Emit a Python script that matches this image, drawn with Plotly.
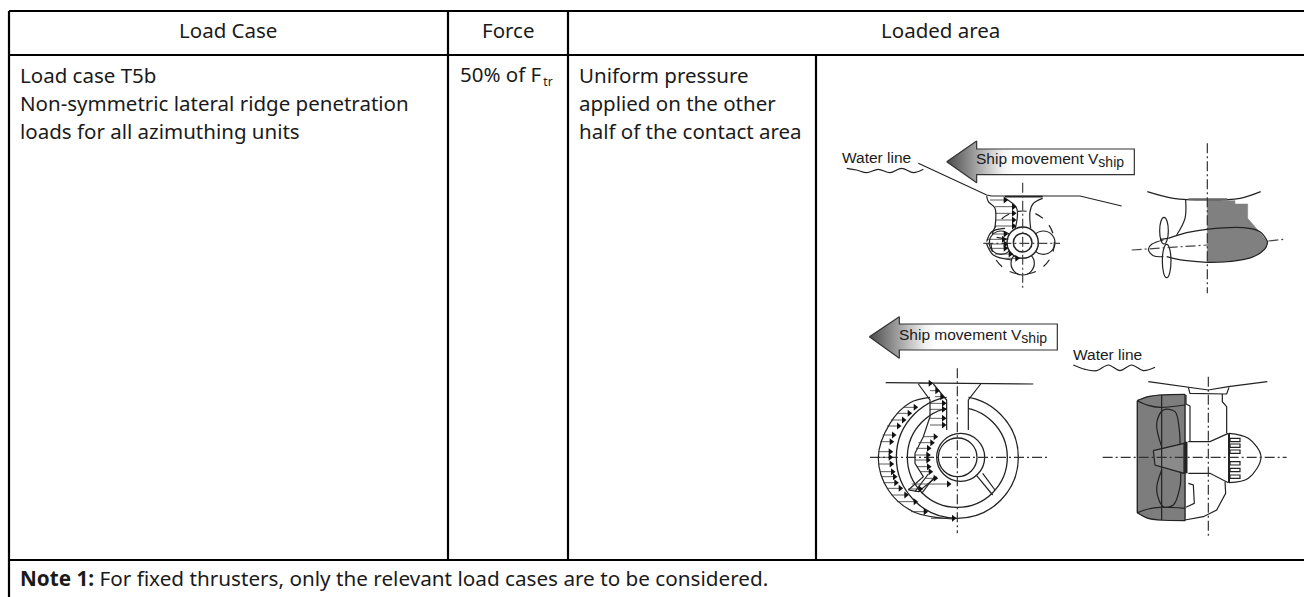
import plotly.graph_objects as go

# ---------- table content ----------
table_x = [9, 448, 568, 816, 1304]
table_y = [11, 55, 560, 597]
headers = ["Load Case", "Force", "Loaded area"]
load_case_lines = ["Load case T5b", "Non-symmetric lateral ridge penetration", "loads for all azimuthing units"]
force_text = "50% of F\u200a<sub><span style='font-size:12px'>tr</span></sub>"
area_lines = ["Uniform pressure", "applied on the other", "half of the contact area"]
note_text = "<b>Note 1:</b> For fixed thrusters, only the relevant load cases are to be considered."
ship_label = "Ship movement V<sub><span style='font-size:14px'>ship</span></sub>"
water_label = "Water line"
row_y = [75, 103, 131]

BODY_FONT = "Noto Sans"
DRAW_FONT = "Liberation Sans"

# ---------- drawing outlines (3x crop coordinates) ----------
O1 = (820, 140)
O2 = (820, 320)
O3 = (1060, 330)

d1_arrow = [(380,65),(470,3),(470,27),(943,27),(943,104),(470,104),(470,128),(380,65)]
d1_wave = [(80,85),(110,90),(140,98),(175,88),(210,98),(245,85),(280,98),(310,88)]
d1_hull = [(295,70),(500,165),(515,168),(780,168),(905,198)]
d1_plate = [(555,170),(668,170)]
d1_vcl = [(608,128),(608,450)]
d1_hcl = [(490,310),(720,310)]
d1_strut = [
    [(500,168),(505,185),(525,205),(525,262)],
    [(668,175),(640,190),(630,215),(632,265)],
    [(555,175),(590,205),(586,265)],
    [(500,305),(515,275),(555,265)],
    [(530,292),(565,298)],
    [(500,312),(520,345),(575,360)],
]
d1_arrows = [(510,560,180),(525,585,200),(525,585,220),(525,585,240),(525,585,258),
             (520,560,282),(500,555,298),(500,560,312),(505,560,325),(525,575,342),(545,595,355)]
d1_circles = [(608,308,95,"dash"),(608,370,35,"solid"),(670,308,35,"solid"),(543,308,35,"solid")]
d1_hub = [(608,308,47),(608,308,28)]

d2_hull = [(982,155),(1060,175),(1160,180),(1260,175),(1322,155)]
d2_plate = [(1105,178),(1222,178)]
d2_vcl = [(1162,10),(1162,460)]
d2_hcl1 = [(935,330),(1162,315)]
d2_hcl2 = [(1345,303),(1390,298)]
d2_gray_top = [(1162,182),(1245,182),(1245,192),(1283,192),(1283,235),(1315,272),(1333,290),(1343,305)]
d2_gray_low = [(1343,305),(1338,322),(1322,338),(1295,352),(1255,361),(1210,366),(1162,367),(1162,182)]
d2_lines = [
    [(1097,180),(1095,235),(1070,285)],
    [(1045,295),(1100,278),(1160,268),(1270,263),(1320,275),(1343,305)],
    [(1343,305),(1338,322),(1322,338),(1295,352),(1255,361),(1210,366),(1162,367),(1100,362),(1060,355),(1040,350)],
    [(1030,300),(995,313),(985,328),(1000,347),(1030,350)],
]
d2_box = [(1020,298),(1045,295)]
d2_blades = [(1032,272,13,40),(1040,363,13,50)]

d3_arrow = [(148,50),(238,-10),(238,12),(712,12),(712,90),(238,90),(238,115),(148,50)]
d3_base = [(197,188),(640,192)]
d3_vcl = [(412,145),(412,640)]
d3_hcl = [(150,412),(685,412)]
d3_strut = [
    [(340,192),(380,240),(380,330)],
    [(482,192),(445,240),(445,330)],
]
d3_spokes = [[(470,467),(518,525)],[(488,460),(525,510)],[(345,468),(305,520)],[(325,462),(285,515)]]
d3_rings = [(412,412,183),(412,412,150)]
d3_hub = [(422,412,72),(413,412,58)]
d3_pressure = [
    [(330,232),(270,248),(210,310),(175,412),(205,510),(280,575),(400,597)],
    [(295,192),(330,240),(330,290),(310,350),(285,400),(285,430),(310,470),(265,510),(295,515),(350,470)],
]
d3_arrows = [(252,290,262),(230,272,280),(213,255,300),(201,240,318),(188,225,345),(181,218,365),(176,215,395),
             (175,215,412),(176,218,432),(180,222,455),(184,228,470),(191,232,488),(200,245,505),(214,262,525),
             (231,290,545),(273,320,575),(333,405,595),(295,335,190),(330,355,212),(345,370,230),(330,375,250),
             (330,375,268),(330,375,295),(330,375,315),(310,350,350),(295,340,368),(288,330,385),(285,328,405),
             (285,328,420),(290,330,440),(300,335,455),(315,350,475),(275,390,492),(265,305,507)]

d4_wave = [(40,105),(75,118),(110,122),(145,105),(180,122),(215,105),(250,122),(285,112)]
d4_gray = [(232,212),(265,200),(300,195),(375,195),(375,570),(300,570),(265,565),(232,548),(232,212)]
d4_hub_fill = [(280,362),(372,340),(372,430),(285,405),(280,362)]
d4_lines = [
    [(265,155),(385,172),(445,180),(505,170),(622,155)],
    [(385,172),(390,190),(500,192),(507,172)],
    [(487,192),(487,215),(500,230),(500,310)],
    [(378,195),(378,222),(390,228),(390,335)],
    [(385,335),(450,335),(505,310)],
    [(385,430),(450,430),(505,458)],
    [(385,460),(400,465),(403,520),(378,532)],
    [(495,455),(497,490),(470,540),(430,560),(375,570)],
]
d4_bulb = [(507,310),(565,325),(603,380),(565,445),(507,458)]
d4_dark = [
    [(232,212),(265,226),(300,232),(375,225)],
    [(232,548),(265,537),(300,532),(375,535)],
    [(232,212),(265,200),(300,195),(375,193)],
    [(232,548),(265,565),(300,570),(375,572)],
    [(305,350),(290,280),(310,240),(345,245),(358,300),(360,345)],
    [(305,420),(290,480),(310,530),(340,525),(360,470),(362,425)],
]
d4_straight = [[(305,195),(305,570)], [(232,212),(232,548)], [(375,193),(375,572)]]
d4_thick = [(378,335),(378,430)]
d4_thick2 = [(507,310),(507,458)]
d4_fins_y = [325, 342, 360, 395, 415, 435]
d4_vcl = [(445,140),(445,620)]
d4_hcl = [(128,382),(680,382)]


def tx(p, o):
    return o[0] + p[0] / 3


def ty(p, o):
    return o[1] + p[1] / 3


fig = go.Figure()


def poly(pts, o=(0, 0), color="#222", width=1.2, dash="solid", shape="linear", fill=None, fillcolor=None,
         fillgradient=None):
    xs = [tx(p, o) for p in pts]
    ys = [ty(p, o) for p in pts]
    kw = {}
    if fill:
        kw["fill"] = fill
    if fillcolor:
        kw["fillcolor"] = fillcolor
    if fillgradient:
        kw["fillgradient"] = fillgradient
    fig.add_trace(go.Scatter(x=xs, y=ys, mode="lines", showlegend=False, hoverinfo="skip",
                             line=dict(color=color, width=width, dash=dash, shape=shape), **kw))


def circle(cx, cy, r, o, color="#222", width=1.2, dash="solid", fill=None, ry=None):
    ry = r if ry is None else ry
    fig.add_shape(type="circle", xref="x", yref="y", layer="below",
                  x0=o[0] + (cx - r) / 3, x1=o[0] + (cx + r) / 3,
                  y0=o[1] + (cy - ry) / 3, y1=o[1] + (cy + ry) / 3,
                  line=dict(color=color, width=width, dash=dash), fillcolor=fill)


def arrows(items, o):
    xs, ys, hx, hy = [], [], [], []
    for a, b, y in items:
        xs += [o[0] + a / 3, o[0] + b / 3, None]
        ys += [o[1] + y / 3, o[1] + y / 3, None]
        hx.append(o[0] + b / 3 - 1.5)
        hy.append(o[1] + y / 3)
    fig.add_trace(go.Scatter(x=xs, y=ys, mode="lines", showlegend=False, hoverinfo="skip",
                             line=dict(color="#333", width=0.8)))
    fig.add_trace(go.Scatter(x=hx, y=hy, mode="markers", showlegend=False, hoverinfo="skip",
                             marker=dict(symbol="triangle-right", size=6, color="#111")))


CL = "10px,3px,2px,3px"
GRAD = dict(type="horizontal", colorscale=[[0, "#4a4a4a"], [0.3, "#f2f2f2"], [0.36, "#ffffff"], [1, "#ffffff"]])

# drawing 1
for c in d1_circles:
    circle(c[0], c[1], c[2], O1, dash=c[3])
for c in d1_hub:
    circle(c[0], c[1], c[2], O1, fill="white", width=1.5)
poly(d1_arrow, O1, color="#333", fill="toself", fillgradient=GRAD)
poly(d1_wave, O1, shape="spline")
poly(d1_hull, O1)
poly(d1_plate, O1, width=1.8)
poly(d1_vcl, O1, dash=CL, color="#444")
poly(d1_hcl, O1, dash=CL, color="#444")
for s in d1_strut:
    poly(s, O1, shape="spline" if len(s) > 2 else "linear")
arrows(d1_arrows, O1)

# drawing 2
poly(d2_gray_top + d2_gray_low, O1, color="#808080", width=0.5, fill="toself", fillcolor="#808080")
poly(d2_hull, O1, shape="spline")
poly(d2_plate, O1, width=2, color="#666")
poly(d2_vcl, O1, dash=CL, color="#333")
poly(d2_hcl1, O1, dash=CL, color="#444")
poly(d2_hcl2, O1, dash=CL, color="#444")
for s in d2_lines:
    poly(s, O1, shape="spline")
poly(d2_box, O1)
for b in d2_blades:
    circle(b[0], b[1], b[2], O1, ry=b[3])

# drawing 3
for c in d3_rings:
    circle(c[0], c[1], c[2], O2, width=1.3)
fig.add_shape(type="rect", xref="x", yref="y", layer="below", x0=O2[0] + 380 / 3, x1=O2[0] + 445 / 3,
              y0=O2[1] + 192 / 3, y1=O2[1] + 345 / 3, fillcolor="white", line=dict(width=0))
for c in d3_hub:
    circle(c[0], c[1], c[2], O2, fill="white", width=1.3)
poly(d3_arrow, O2, color="#333", fill="toself", fillgradient=GRAD)
poly(d3_base, O2)
poly(d3_vcl, O2, dash=CL, color="#333")
poly(d3_hcl, O2, dash=CL, color="#333")
for s in d3_strut + d3_spokes:
    poly(s, O2)
for s in d3_pressure:
    poly(s, O2, shape="spline" if s is d3_pressure[0] else "linear")
arrows(d3_arrows, O2)

# drawing 4
poly(d4_gray, O3, color="#7d7d7d", fill="toself", fillcolor="#7d7d7d")
poly(d4_hub_fill, O3, color="#222", fill="toself", fillcolor="#8a8a8a")
poly(d4_wave, O3, shape="spline")
for s in d4_lines:
    poly(s, O3)
poly(d4_bulb, O3, shape="spline")
for s in d4_dark:
    poly(s, O3, shape="spline", color="#222")
for s in d4_straight:
    poly(s, O3, color="#222")
poly(d4_thick, O3, width=3)
poly(d4_thick2, O3, width=2)
for fy in d4_fins_y:
    poly([(510, fy), (540, fy), (540, fy + 10), (510, fy + 10), (510, fy)], O3)
poly(d4_vcl, O3, dash=CL, color="#333")
poly(d4_hcl, O3, dash=CL, color="#333")

# table rules
tl = dict(color="#000", width=2.2)


def rule(x0, y0, x1, y1):
    fig.add_trace(go.Scatter(x=[x0, x1], y=[y0, y1], mode="lines", showlegend=False, hoverinfo="skip", line=tl))


rule(table_x[0], table_y[0], table_x[4], table_y[0])
rule(table_x[0], table_y[1], table_x[4], table_y[1])
rule(table_x[0], table_y[2], table_x[4], table_y[2])
rule(table_x[0], table_y[0], table_x[0], table_y[3])
rule(table_x[1], table_y[0], table_x[1], table_y[2])
rule(table_x[2], table_y[0], table_x[2], table_y[2])
rule(table_x[3], table_y[1], table_x[3], table_y[2])


def label(text, x, y, size=20.5, font=BODY_FONT, anchor="left"):
    fig.add_annotation(text=text, x=x, y=y, xref="x", yref="y", showarrow=False, xanchor=anchor, yanchor="middle",
                       font=dict(family=font, size=size, color="#1a1a1a"), borderpad=0, borderwidth=0)


label(headers[0], 228, 30, anchor="center")
label(headers[1], 508, 30, anchor="center")
label(headers[2], 940, 30, anchor="center")
for t, y in zip(load_case_lines, row_y):
    label(t, 20, y)
label(force_text, 460, row_y[0])
for t, y in zip(area_lines, row_y):
    label(t, 579, y)
label(note_text, 20, 578, size=20.7)
label(water_label, 842, 157, size=15.5, font=DRAW_FONT)
label(water_label, 1073, 354, size=15.5, font=DRAW_FONT)
label(ship_label, 976, 160, size=15.5, font=DRAW_FONT)
label(ship_label, 899, 336, size=15.5, font=DRAW_FONT)

fig.update_layout(
    width=1304, height=597, margin=dict(l=0, r=0, t=0, b=0),
    paper_bgcolor="white", plot_bgcolor="white",
    xaxis=dict(range=[0, 1304], visible=False, fixedrange=True),
    yaxis=dict(range=[597, 0], visible=False, fixedrange=True),
    showlegend=False,
)
fig.write_html("out.html", config={"displayModeBar": False},
               post_script="document.body.style.margin='0';document.documentElement.style.overflow='hidden';")
